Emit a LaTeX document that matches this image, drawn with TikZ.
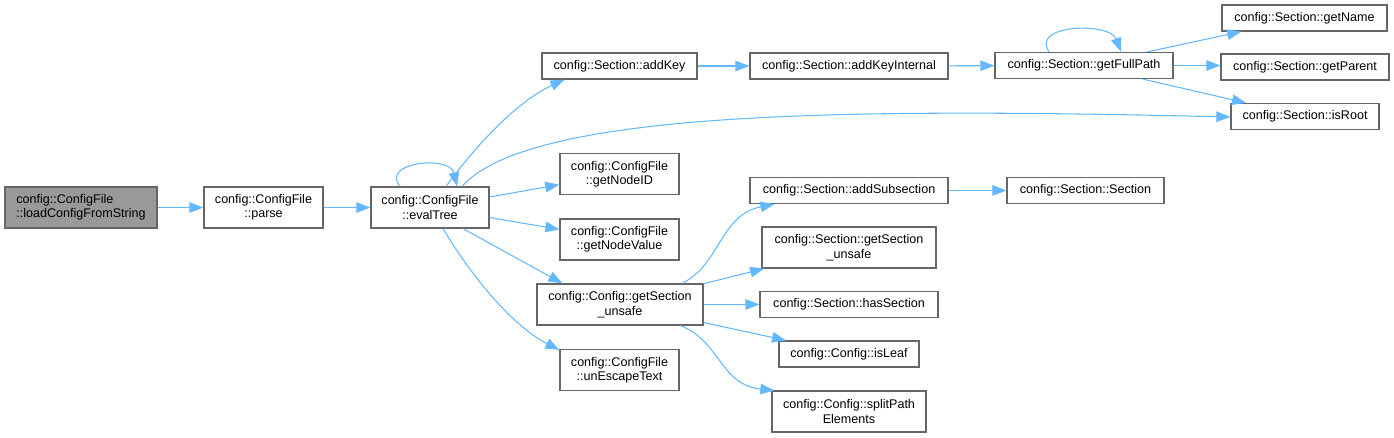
\documentclass[tikz,border=0pt]{standalone}
\usepackage{fontspec}
\setmainfont{Liberation Sans}
\usepackage{xcolor}
\usetikzlibrary{arrows.meta}
\usetikzlibrary{calc}
\definecolor{edgeblue}{HTML}{63B8FF}
\definecolor{boxgray}{HTML}{666666}
\definecolor{rootgray}{HTML}{999999}

\begin{document}
\begin{tikzpicture}[x=0.02cm, y=-0.02cm,
    block/.style={rectangle, draw=boxgray, line width=0.7pt, fill=white, inner sep=0pt, align=center, font=\fontsize{7.15}{8.2}\selectfont},
    low/.style={minimum height=0.52cm},
    tall/.style={minimum height=0.82cm},
    call/.style={draw=edgeblue, line width=0.6pt, -{Triangle[length=8pt, width=6pt]}}]
    \useasboundingbox (0,0) rectangle (1394,437);

    \node[block, tall, fill=rootgray, align=left, minimum width=3.04cm] (1) at (81,207.5) {config::ConfigFile\\::loadConfigFromString};
    \node[block, tall, minimum width=2.38cm] (2) at (263.5,207.5) {config::ConfigFile\\::parse};
    \node[block, tall, minimum width=2.36cm] (3) at (430,207.5) {config::ConfigFile\\::evalTree};
    \node[block, low, minimum width=3.10cm] (4) at (619.5,66) {config::Section::addKey};
    \node[block, low, minimum width=3.96cm] (5) at (849,66) {config::Section::addKeyInternal};
    \node[block, low, minimum width=3.56cm] (6) at (1084,65.5) {config::Section::getFullPath};
    \node[block, low, minimum width=3.30cm] (7) at (1304.5,18) {config::Section::getName};
    \node[block, low, minimum width=3.36cm] (8) at (1305,67) {config::Section::getParent};
    \node[block, low, minimum width=2.96cm] (9) at (1305,116.5) {config::Section::isRoot};
    \node[block, tall, minimum width=2.38cm] (10) at (619.5,174) {config::ConfigFile\\::getNodeID};
    \node[block, tall, minimum width=2.38cm] (11) at (619.5,239.5) {config::ConfigFile\\::getNodeValue};
    \node[block, tall, minimum width=3.32cm] (12) at (620,304.5) {config::Config::getSection\\\_unsafe};
    \node[block, tall, minimum width=2.38cm] (13) at (619.5,370) {config::ConfigFile\\::unEscapeText};
    \node[block, low, minimum width=3.96cm] (14) at (849,190.5) {config::Section::addSubsection};
    \node[block, tall, minimum width=3.48cm] (15) at (849,247.5) {config::Section::getSection\\\_unsafe};
    \node[block, low, minimum width=3.56cm] (16) at (849,304.5) {config::Section::hasSection};
    \node[block, low, minimum width=2.80cm] (17) at (849,354) {config::Config::isLeaf};
    \node[block, tall, minimum width=3.08cm] (18) at (849,411.5) {config::Config::splitPath\\Elements};
    \node[block, low, minimum width=3.14cm] (19) at (1085.5,190.5) {config::Section::Section};

    \draw[call] (1) -- (2);
    \draw[call] (2) -- (3);
    \draw[call] ($(3.north)+(-30,0)$) .. controls (380,162) and (450,155) .. ($(3.north)+(27,0)$);
    \draw[call] ($(3.north)+(16,0)$) .. controls (480,140) and (520,100) .. ($(4.south west)+(23,0)$);
    \draw[call] ($(3.north)+(32,0)$) .. controls (530,110) and (850,108) .. ($(9.west)+(0,0.5)$);
    \draw[call] (3) -- (10);
    \draw[call] (3) -- (11);
    \draw[call] ($(3.south)+(33,0)$) -- ($(12.north west)+(26,0)$);
    \draw[call] ($(3.south)+(13,0)$) .. controls (480,290) and (520,330) .. ($(13.north west)+(0,1)$);
    \draw[call] (4) -- (5);
    \draw[call] (5) -- (6);
    \draw[call] ($(6.north)+(-35,0)$) .. controls (1030,24) and (1110,22) .. ($(6.north)+(37,0)$);
    \draw[call] (6) -- (7);
    \draw[call] (6.east) -- (8.west |- 6.east);
    \draw[call] (6) -- (9);
    \draw[call] ($(12.north)+(62,0)$) .. controls (720,265) and (720,215) .. ($(14.south west)+(25,0)$);
    \draw[call] (12) -- (15);
    \draw[call] (12) -- (16);
    \draw[call] (12) -- (17);
    \draw[call] ($(12.south)+(60,0)$) .. controls (720,340) and (720,385) .. ($(18.north west)+(3,0)$);
    \draw[call] (14) -- (19);

\end{tikzpicture}
\end{document}
